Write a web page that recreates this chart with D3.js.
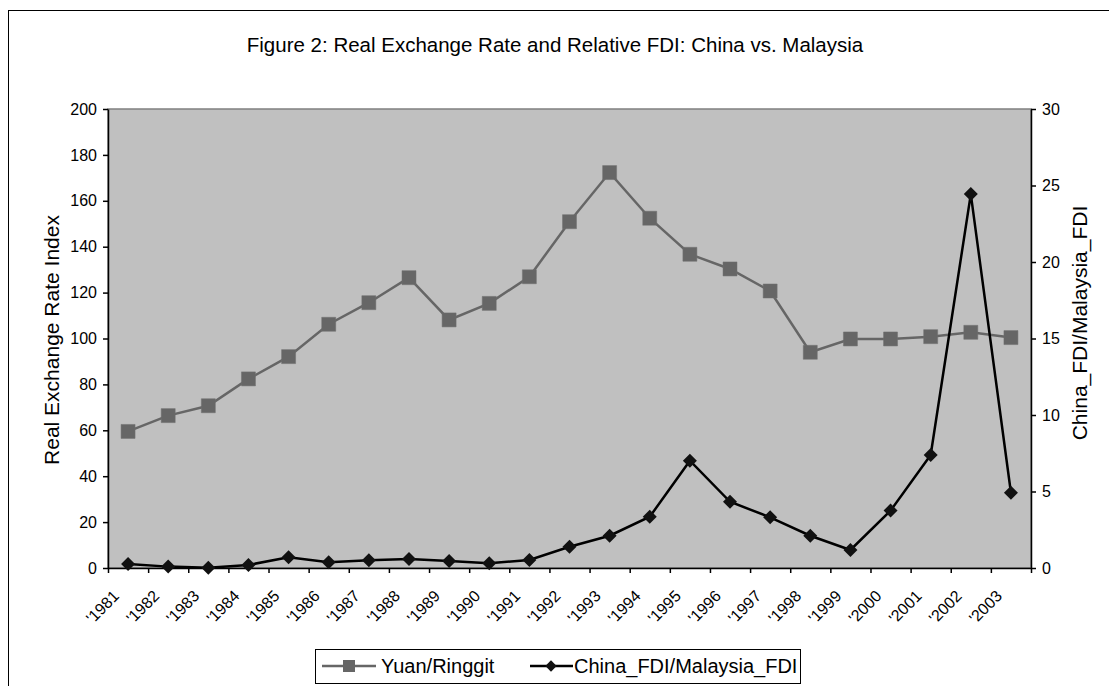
<!DOCTYPE html>
<html>
<head>
<meta charset="utf-8">
<script src="https://cdn.jsdelivr.net/npm/d3@7"></script>
<style>
  body { margin: 0; background: #fff; }
  svg { font-family: "Liberation Sans", Arial, sans-serif; }
  .ax text { font-size: 16px; fill: #000; }
  .ax path, .ax line { stroke: #000; stroke-width: 1.5; }
</style>
</head>
<body>
<svg id="chart" width="1109" height="686"></svg>
<script>
// FIGURE 2 - exchange rate vs relative FDI

// DATA
var years = ["'1981","'1982","'1983","'1984","'1985","'1986","'1987","'1988","'1989","'1990",
  "'1991","'1992","'1993","'1994","'1995","'1996","'1997","'1998","'1999","'2000","'2001","'2002","'2003"];
var yuanRinggit = [59.5, 66.4, 70.7, 82.4, 92.1, 106.2, 115.6, 126.5, 108.1, 115.3,
  126.9, 150.9, 172.3, 152.4, 136.7, 130.3, 120.7, 94.0, 99.8, 99.8, 100.8, 102.7, 100.4];
var fdiRatio = [0.26, 0.09, 0.02, 0.2, 0.7, 0.37, 0.5, 0.59, 0.46, 0.31,
  0.52, 1.39, 2.11, 3.35, 7.01, 4.33, 3.31, 2.11, 1.18, 3.75, 7.39, 24.44, 4.92];
var leftTicks = [0, 20, 40, 60, 80, 100, 120, 140, 160, 180, 200];
var rightTicks = [0, 5, 10, 15, 20, 25, 30];

// SIZING (window.top is reserved, so prefix everything)
var plotLeft = 108, plotRight = 1031, plotTop = 109, plotBottom = 568;

var svg = d3.select("#chart");

// outer frame
svg.append("rect")
  .attr("x", 8.5).attr("y", 10.5)
  .attr("width", 1200).attr("height", 800)
  .style("fill", "none").style("stroke", "#000");

// title
svg.append("text")
  .attr("x", 555).attr("y", 52)
  .attr("text-anchor", "middle")
  .style("font-size", "20.5px")
  .text("Figure 2: Real Exchange Rate and Relative FDI: China vs. Malaysia");

// SCALES
var xScale = d3.scaleBand().domain(years).range([plotLeft, plotRight]);
var xEdges = d3.scaleLinear().domain([0, years.length]).range([plotLeft, plotRight]);
var yLeft = d3.scaleLinear().domain([0, 200]).range([plotBottom, plotTop]);
var yRight = d3.scaleLinear().domain([0, 30]).range([plotBottom, plotTop]);
var cx = function(d) { return xScale(d) + xScale.bandwidth() / 2; };

// plot area
svg.append("rect")
  .attr("x", plotLeft).attr("y", plotTop)
  .attr("width", plotRight - plotLeft).attr("height", plotBottom - plotTop)
  .style("fill", "#c0c0c0").style("stroke", "#808080").style("stroke-width", 1.5);

// AXES
svg.append("g")
  .attr("class", "ax")
  .attr("transform", "translate(" + plotLeft + ",0)")
  .call(d3.axisLeft(yLeft).tickValues(leftTicks).tickSize(5).tickPadding(6).tickSizeOuter(0));

svg.append("g")
  .attr("class", "ax")
  .attr("transform", "translate(" + plotRight + ",0)")
  .call(d3.axisRight(yRight).tickValues(rightTicks).tickSize(5).tickPadding(6).tickSizeOuter(0));

svg.append("g")
  .attr("class", "ax")
  .attr("transform", "translate(0," + plotBottom + ")")
  .call(d3.axisBottom(xEdges).tickValues(d3.range(0, years.length + 1)).tickFormat("").tickSize(5).tickSizeOuter(0));

// x labels rotated
svg.append("g").selectAll("text")
  .data(years)
  .enter()
  .append("text")
  .attr("transform", function(d) { return "translate(" + (cx(d) - 16) + ",589) rotate(-45)"; })
  .attr("text-anchor", "end")
  .attr("dy", "0.71em")
  .style("font-size", "16px")
  .text(function(d) { return d; });

// axis titles
svg.append("text")
  .attr("transform", "translate(51,340) rotate(-90)")
  .attr("text-anchor", "middle")
  .attr("dominant-baseline", "central")
  .style("font-size", "21px")
  .text("Real Exchange Rate Index");

svg.append("text")
  .attr("transform", "translate(1079,323) rotate(-90)")
  .attr("text-anchor", "middle")
  .attr("dominant-baseline", "central")
  .style("font-size", "21px")
  .text("China_FDI/Malaysia_FDI");

// LINES
var lineLeft = d3.line()
  .x(function(d, i) { return cx(years[i]); })
  .y(function(d) { return yLeft(d); });
var lineRight = d3.line()
  .x(function(d, i) { return cx(years[i]); })
  .y(function(d) { return yRight(d); });

svg.append("path")
  .attr("d", lineLeft(yuanRinggit))
  .style("fill", "none").style("stroke", "#666666").style("stroke-width", 2.5);

svg.selectAll(".sq")
  .data(yuanRinggit)
  .enter()
  .append("path")
  .attr("class", "sq")
  .attr("d", d3.symbol(d3.symbolSquare).size(196))
  .attr("transform", function(d, i) { return "translate(" + cx(years[i]) + "," + yLeft(d) + ")"; })
  .style("fill", "#666666").style("stroke", "#707070").style("stroke-width", 0.5);

svg.append("path")
  .attr("d", lineRight(fdiRatio))
  .style("fill", "none").style("stroke", "#000").style("stroke-width", 2.5);

svg.selectAll(".dm")
  .data(fdiRatio)
  .enter()
  .append("path")
  .attr("class", "dm")
  .attr("d", d3.symbol(d3.symbolSquare).size(98))
  .attr("transform", function(d, i) { return "translate(" + cx(years[i]) + "," + yRight(d) + ") rotate(45)"; })
  .style("fill", "#111");

// LEGEND
var legend = svg.append("g");
legend.append("rect")
  .attr("x", 315.5).attr("y", 649.5)
  .attr("width", 485).attr("height", 34)
  .style("fill", "#fff").style("stroke", "#000");

legend.append("line")
  .attr("x1", 322).attr("x2", 376).attr("y1", 666).attr("y2", 666)
  .style("stroke", "#666666").style("stroke-width", 2.5);
legend.append("path")
  .attr("d", d3.symbol(d3.symbolSquare).size(144))
  .attr("transform", "translate(349,666)")
  .style("fill", "#666666");
legend.append("text")
  .attr("x", 381).attr("y", 673)
  .style("font-size", "20px")
  .text("Yuan/Ringgit");

legend.append("line")
  .attr("x1", 530).attr("x2", 573).attr("y1", 666).attr("y2", 666)
  .style("stroke", "#000").style("stroke-width", 2.5);
legend.append("path")
  .attr("d", d3.symbol(d3.symbolSquare).size(64))
  .attr("transform", "translate(551,666) rotate(45)")
  .style("fill", "#111");
legend.append("text")
  .attr("x", 574).attr("y", 673)
  .style("font-size", "20px")
  .text("China_FDI/Malaysia_FDI");
</script>
</body>
</html>
